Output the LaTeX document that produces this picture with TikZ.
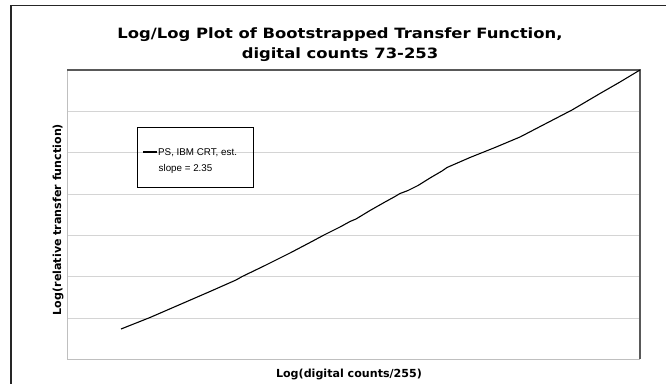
\documentclass[tikz,border=0pt]{standalone}
\usepackage{fontspec}
\setmainfont{Liberation Sans}
\newfontfamily\titlefont[FakeStretch=1.155]{DejaVu Sans}
\newfontfamily\labelfont{DejaVu Sans}
\begin{document}
\begin{tikzpicture}[x=1pt,y=-1pt,
  gridline/.style={draw=black!17, line width=1pt},
  plotlight/.style={draw=black!25, line width=1pt},
  plotdark/.style={draw=black!65, line width=1.5pt},
  frameline/.style={draw=black!85, line width=1.6pt},
  curve/.style={draw=black, line width=1.1pt, line join=round},
  titletext/.style={font=\titlefont\bfseries\fontsize{14.2}{16}\selectfont, inner sep=0pt, anchor=base},
  axistext/.style={font=\labelfont\bfseries\fontsize{11.1}{12}\selectfont, inner sep=0pt},
  legendtext/.style={font=\fontsize{9.8}{12}\selectfont, inner sep=0pt, anchor=base west},
]
\useasboundingbox (0,0) rectangle (666,383);
\fill[white] (0,0) rectangle (666,383);
% outer chart frame (only top and left visible)
\draw[frameline] (11,390) -- (11,5.5) -- (680,5.5);
% plot area
\foreach \yy in {111,152.5,194,235,276.5,318}
  \draw[gridline] (67,\yy) -- (640,\yy);
\draw[plotlight] (67,70) -- (67,359) -- (640,359);
\draw[plotdark] (67,70) -- (640,70) -- (640,359);
% data curve
\draw[curve] plot coordinates {
 (121,329) (150,317.5) (180,304.5) (210,291.5) (236,280) (242,276.6)
 (265,265.5) (290,253) (310,242.5) (324,235) (340,227) (350,221.5) (356,219)
 (370,210.5) (385,202) (395,196.5) (400,193.5) (408,190.5) (418,185.5)
 (430,178) (442,171) (447,167.5) (470,157.5) (495,147.5) (520,137)
 (545,124) (572,110) (600,93.5) (620,82) (640,70)};
% title
\node[titletext] (title1) at (340,38) {Log/Log Plot of Bootstrapped Transfer Function,};
\node[titletext] (title2) at (340,58) {digital counts 73-253};
% axis labels
\node[axistext, anchor=base] (xlabel) at (349,377) {Log(digital counts/255)};
\node[axistext, rotate=90] (ylabel) at (58,219.5) {Log(relative transfer function)};
% legend
\node[draw=black, line width=1pt, minimum width=116pt, minimum height=60pt, inner sep=0pt] (legend) at (195,157) {};
\coordinate (legA) at (143,152);
\coordinate (legB) at (157,152);
\draw[line width=1.1pt] (legA) -- (legB);
\node[legendtext] (leg1) at (158,155.5) {PS, IBM CRT, est.};
\node[legendtext] (leg2) at (158.5,171) {slope = 2.35};
\end{tikzpicture}
\end{document}
